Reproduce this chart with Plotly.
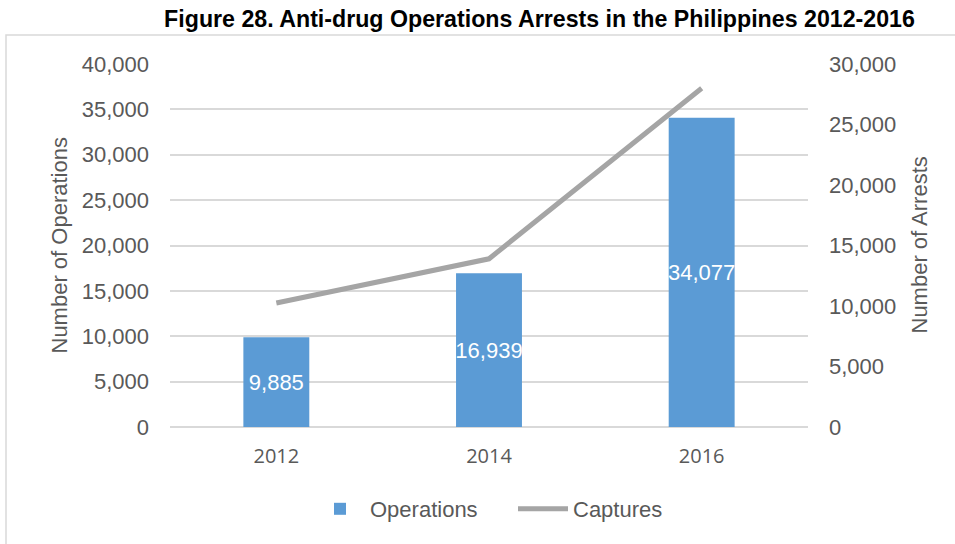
import plotly.graph_objects as go

# Chart data
years = ["2012", "2014", "2016"]
operations = [9885, 16939, 34077]
captures = [10250, 13900, 28000]

left_ticks = list(range(0, 40001, 5000))
right_ticks = list(range(0, 30001, 5000))

BAR_BLUE = "#5B9BD5"
LINE_GRAY = "#A5A5A5"
GRID = "#D9D9D9"
TEXT = "#595959"

fig = go.Figure()

fig.add_trace(go.Bar(
    x=years, y=operations, name="Operations",
    marker=dict(color=BAR_BLUE, line=dict(width=0)),
    width=0.31,
    text=[f"{v:,}" for v in operations],
    textposition="inside", insidetextanchor="middle",
    textangle=0, constraintext="none",
    textfont=dict(family="Liberation Sans, Arial", size=22, color="white"),
    cliponaxis=False,
))

fig.add_trace(go.Scatter(
    x=years, y=captures, name="Captures", yaxis="y2",
    mode="lines", line=dict(color=LINE_GRAY, width=5),
))

W, H = 955, 544
L, R, T, B = 170, 147, 64, 117
pw, ph = W - L - R, H - T - B

def px_x(x):
    return (x - L) / pw

def px_y(y):
    return (H - B - y) / ph

fig.update_layout(
    width=W, height=H,
    margin=dict(l=L, r=R, t=T, b=B),
    paper_bgcolor="white", plot_bgcolor="white",
    font=dict(family="Liberation Sans, Arial", color=TEXT),
    title=dict(
        text="<b>Figure 28. Anti-drug Operations Arrests in the Philippines 2012-2016</b>",
        x=539.5 / W, xanchor="center", xref="container",
        y=1 - 19 / H, yanchor="middle", yref="container",
        font=dict(family="Liberation Sans, Arial", size=23.2, color="black"),
    ),
    xaxis=dict(
        type="category", showgrid=False, showline=False, zeroline=False,
        ticks="", tickfont=dict(family="Open Sans", size=20, color=TEXT),
        ticklabelstandoff=15,
    ),
    yaxis=dict(
        range=[0, 40000], tickvals=left_ticks, tickformat=",d",
        showgrid=True, gridcolor=GRID, gridwidth=1.5,
        zeroline=True, zerolinecolor=GRID, zerolinewidth=2,
        showline=False, ticks="",
        tickfont=dict(size=22, color=TEXT), ticklabelstandoff=20,
    ),
    yaxis2=dict(
        range=[0, 30000], tickvals=right_ticks, tickformat=",d",
        overlaying="y", side="right", showgrid=False, zeroline=False,
        showline=False, ticks="",
        tickfont=dict(size=22, color=TEXT), ticklabelstandoff=20,
    ),
    legend=dict(
        orientation="h", x=px_x(310), xanchor="left",
        y=px_y(509), yanchor="middle",
        font=dict(size=22, color=TEXT), itemwidth=50,
        entrywidth=138,
        traceorder="normal",
    ),
    bargap=0.69,
    showlegend=True,
)

# Axis titles
fig.add_annotation(
    text="Number of Operations", textangle=-90,
    x=px_x(59), y=0.5, xref="paper", yref="paper",
    xanchor="center", yanchor="middle",
    showarrow=False, font=dict(size=22, color=TEXT),
)
fig.add_annotation(
    text="Number of Arrests", textangle=-90,
    x=px_x(919), y=0.5, xref="paper", yref="paper",
    xanchor="center", yanchor="middle",
    showarrow=False, font=dict(size=22, color=TEXT),
)

# Chart frame
fig.add_shape(
    type="rect", xref="paper", yref="paper",
    x0=px_x(6), x1=px_x(1100), y0=px_y(700), y1=px_y(35),
    line=dict(color=GRID, width=1.5), fillcolor="rgba(0,0,0,0)",
    layer="below",
)

fig.write_html("out.html")
